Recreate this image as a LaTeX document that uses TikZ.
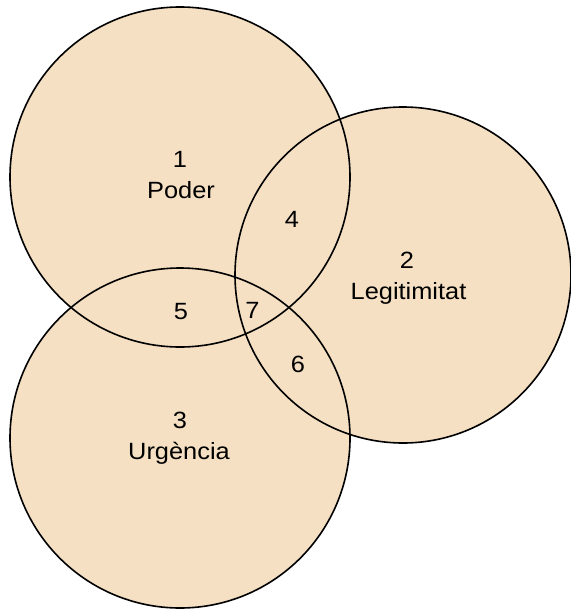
\documentclass[tikz,border=0pt]{standalone}
\usepackage{fontspec}
\setmainfont{Liberation Sans}
\usepackage{graphicx}
\definecolor{venn}{HTML}{F5E0C3}
\tikzset{
  setfill/.style={fill=venn, draw=none},
  setline/.style={draw=black, line width=1.6pt},
  lbl/.style={anchor=base, inner sep=0pt, font=\fontsize{23.5}{27}\selectfont}
}
\newcommand{\wide}[1]{\scalebox{1.08}[1]{#1}}
\begin{document}
\begin{tikzpicture}[x=1pt,y=-1pt]
\useasboundingbox (0,0) rectangle (570,610);
\coordinate (c1) at (180,177);
\coordinate (c2) at (403,275);
\coordinate (c3) at (180,438);
\fill[setfill] (c1) circle[radius=170pt];
\fill[setfill] (c2) circle[radius=168pt];
\fill[setfill] (c3) circle[radius=170pt];
\draw[setline] (c1) circle[radius=170pt];
\draw[setline] (c2) circle[radius=168pt];
\draw[setline] (c3) circle[radius=170pt];
\node[lbl] (n1) at (180,167.5) {\wide{1}};
\node[lbl] (t1) at (181,198) {\wide{Poder}};
\node[lbl] (n2) at (407,268) {\wide{2}};
\node[lbl] (t2) at (408.5,299) {\wide{Legitimitat}};
\node[lbl] (n3) at (180,428) {\wide{3}};
\node[lbl] (t3) at (179,459) {\wide{Urgència}};
\node[lbl] (n4) at (292,227) {\wide{4}};
\node[lbl] (n5) at (181,319) {\wide{5}};
\node[lbl] (n7) at (252.5,318) {\wide{7}};
\node[lbl] (n6) at (298,372) {\wide{6}};
\end{tikzpicture}
\end{document}
